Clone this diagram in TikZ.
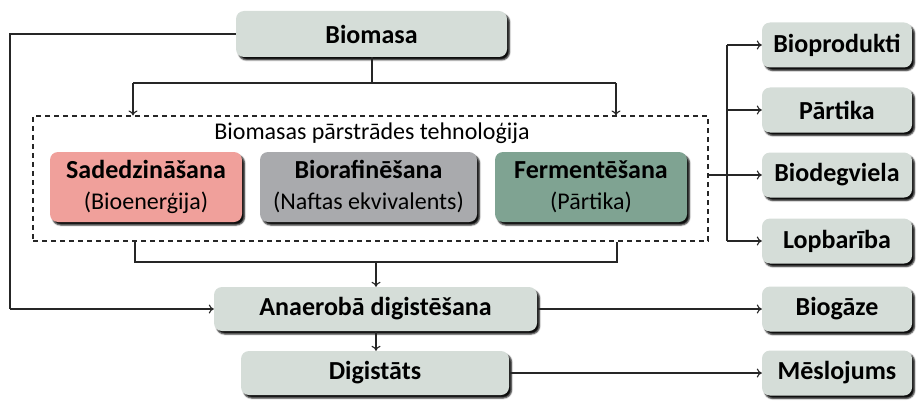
\documentclass[tikz,border=0pt]{standalone}
\usepackage{fontspec}
\setmainfont{Carlito}
\usetikzlibrary{arrows.meta,shadows.blur,calc}
\definecolor{boxfill}{HTML}{D5DDD8}
\definecolor{pinkfill}{HTML}{F0A09B}
\definecolor{greyfill}{HTML}{A9AAAD}
\definecolor{greenfill}{HTML}{7FA392}
\tikzset{
  sbox/.style={draw=none, fill=boxfill, rounded corners=8pt, inner sep=0pt,
    blur shadow={shadow xshift=2.5pt, shadow yshift=-3pt, shadow blur steps=4, shadow blur radius=1.5pt, shadow opacity=95},
    font=\fontsize{26}{30}\selectfont\bfseries, align=center},
  techbox/.style={sbox, minimum width=192pt, minimum height=70pt, font=\fontsize{26}{27}\selectfont},
  rbox/.style={sbox, minimum width=150pt, minimum height=45pt},
  conn/.style={line width=1.1pt, draw=black!85},
  arr/.style={conn, -{To[length=5pt,width=9pt]}},
}
\begin{document}
\begin{tikzpicture}[x=1pt,y=-1pt]
\useasboundingbox (0,0) rectangle (917,401);
% main boxes
\node[sbox, minimum width=271pt, minimum height=46pt] (bio) at (371.5,34) {Biomasa};
\node[techbox, fill=pinkfill] (sad) at (146,187) {\textbf{Sadedzināšana}\\[4pt]{\fontsize{24}{26}\selectfont (Bioenerģija)}};
\node[techbox, fill=greyfill, minimum width=217pt] (raf) at (368.5,187) {\textbf{Biorafinēšana}\\[4pt]{\fontsize{24}{26}\selectfont (Naftas ekvivalents)}};
\node[techbox, fill=greenfill] (fer) at (591,187) {\textbf{Fermentēšana}\\[4pt]{\fontsize{24}{26}\selectfont (Pārtika)}};
\node[draw=black!85, line width=1.1pt, dash pattern=on 5pt off 4pt, minimum width=675pt, minimum height=125pt, inner sep=0pt] (tech) at (370.5,178.5) {};
\node[font=\fontsize{24}{28}\selectfont] (title) at (372,133) {Biomasas pārstrādes tehnoloģija};
\node[sbox, minimum width=323pt, minimum height=44pt] (ana) at (375.5,309) {Anaerobā digistēšana};
\node[sbox, minimum width=268pt, minimum height=44pt] (dig) at (375,373) {Digistāts};
% right boxes
\node[rbox] (bprod) at (837,45) {Bioprodukti};
\node[rbox] (part) at (837,110) {Pārtika};
\node[rbox] (bdeg) at (837,175) {Biodegviela};
\node[rbox] (lop) at (837,241) {Lopbarība};
\node[rbox] (gaz) at (837,309) {Biogāze};
\node[rbox] (mes) at (837,373) {Mēslojums};
% coordinates
\coordinate (topj) at (372,83);
\coordinate (tl) at (133,83);
\coordinate (tr) at (616,83);
\coordinate (bl) at (135,262);
\coordinate (br) at (617,262);
\coordinate (bm) at (376,262);
\coordinate (lt) at (10,34);
\coordinate (lb) at (10,309);
\coordinate (rv) at (727,175);
% connectors
\draw[conn] (bio.west) -- (lt) -- (lb);
\draw[arr] (lb) -- (ana.west);
\draw[conn] (bio.south -| topj) -- (topj);
\draw[conn] (tl) -- (tr);
\draw[arr] (tl) -- (tl |- tech.north);
\draw[arr] (tr) -- (tr |- tech.north);
\draw[conn] (bl |- tech.south) -- (bl) -- (br) -- (br |- tech.south);
\draw[arr] (bm) -- (bm |- ana.north);
\draw[conn] (tech.east |- rv) -- (rv);
\draw[conn] (rv |- bprod.west) -- (rv |- lop.west);
\draw[arr] (rv |- bprod.west) -- (bprod.west);
\draw[arr] (rv |- part.west) -- (part.west);
\draw[arr] (rv) -- (bdeg.west);
\draw[arr] (rv |- lop.west) -- (lop.west);
\draw[arr] (ana.east) -- (gaz.west);
\draw[arr] (ana.south -| bm) -- (bm |- dig.north);
\draw[arr] (dig.east) -- (mes.west);
\end{tikzpicture}
\end{document}
